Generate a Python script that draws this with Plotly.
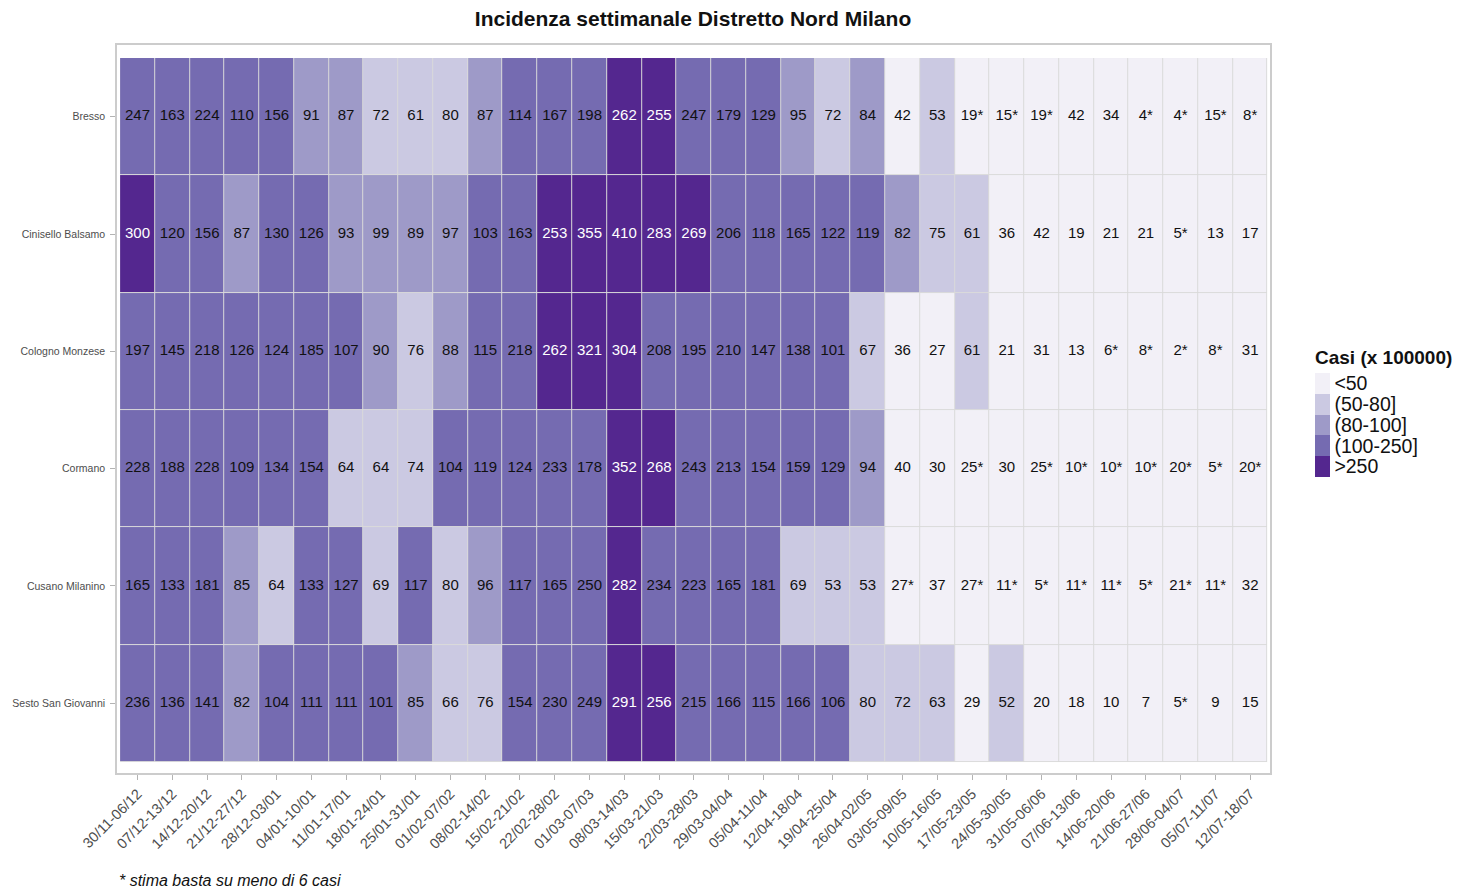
import plotly.graph_objects as go

weeks = ["30/11-06/12", "07/12-13/12", "14/12-20/12", "21/12-27/12", "28/12-03/01",
         "04/01-10/01", "11/01-17/01", "18/01-24/01", "25/01-31/01", "01/02-07/02",
         "08/02-14/02", "15/02-21/02", "22/02-28/02", "01/03-07/03", "08/03-14/03",
         "15/03-21/03", "22/03-28/03", "29/03-04/04", "05/04-11/04", "12/04-18/04",
         "19/04-25/04", "26/04-02/05", "03/05-09/05", "10/05-16/05", "17/05-23/05",
         "24/05-30/05", "31/05-06/06", "07/06-13/06", "14/06-20/06", "21/06-27/06",
         "28/06-04/07", "05/07-11/07", "12/07-18/07"]

zones = ["Bresso", "Cinisello Balsamo", "Cologno Monzese", "Cormano",
         "Cusano Milanino", "Sesto San Giovanni"]

# values as printed in the cells ("*" = estimate based on fewer than 6 cases)
bresso = ["247", "163", "224", "110", "156", "91", "87", "72", "61", "80",
          "87", "114", "167", "198", "262", "255", "247", "179", "129", "95",
          "72", "84", "42", "53", "19*", "15*", "19*", "42", "34", "4*",
          "4*", "15*", "8*"]
cinisello = ["300", "120", "156", "87", "130", "126", "93", "99", "89", "97",
             "103", "163", "253", "355", "410", "283", "269", "206", "118", "165",
             "122", "119", "82", "75", "61", "36", "42", "19", "21", "21",
             "5*", "13", "17"]
cologno = ["197", "145", "218", "126", "124", "185", "107", "90", "76", "88",
           "115", "218", "262", "321", "304", "208", "195", "210", "147", "138",
           "101", "67", "36", "27", "61", "21", "31", "13", "6*", "8*",
           "2*", "8*", "31"]
cormano = ["228", "188", "228", "109", "134", "154", "64", "64", "74", "104",
           "119", "124", "233", "178", "352", "268", "243", "213", "154", "159",
           "129", "94", "40", "30", "25*", "30", "25*", "10*", "10*", "10*",
           "20*", "5*", "20*"]
cusano = ["165", "133", "181", "85", "64", "133", "127", "69", "117", "80",
          "96", "117", "165", "250", "282", "234", "223", "165", "181", "69",
          "53", "53", "27*", "37", "27*", "11*", "5*", "11*", "11*", "5*",
          "21*", "11*", "32"]
sesto = ["236", "136", "141", "82", "104", "111", "111", "101", "85", "66",
         "76", "154", "230", "249", "291", "256", "215", "166", "115", "166",
         "106", "80", "72", "63", "29", "52", "20", "18", "10", "7",
         "5*", "9", "15"]

rows = [bresso, cinisello, cologno, cormano, cusano, sesto]

bin_labels = ["<50", "(50-80]", "(80-100]", "(100-250]", ">250"]
bin_colors = ["#f2f0f7", "#cbc9e2", "#9e9ac8", "#756bb1", "#54278f"]


def to_bin(v):
    if v < 50:
        return 0
    if v <= 80:
        return 1
    if v <= 100:
        return 2
    if v <= 250:
        return 3
    return 4


values = [[float(s.rstrip("*")) for s in r] for r in rows]
bins = [[to_bin(v) for v in r] for r in values]
# reversed so that "<50" sits at the top of the colour bar
zrev = [[4 - b for b in r] for r in bins]

colorscale = []
for k in range(5):
    c = bin_colors[4 - k]
    colorscale.append([k / 5, c])
    colorscale.append([(k + 1) / 5, c])

# page is offset by the 8px body margin -> figure is 1459x881
W, H = 1459, 881
OFF = 8
pl, pr, pt, pb = 117 - OFF, 1270 - OFF, 45 - OFF, 773 - OFF
ph = pb - pt

fig = go.Figure()

# grey layer under the tiles -> tile borders
fig.add_trace(go.Heatmap(
    x=weeks, y=zones, z=[[0] * len(weeks) for _ in zones],
    colorscale=[[0, "#dadada"], [1, "#dadada"]], showscale=False,
    hoverinfo="skip"))

fig.add_trace(go.Heatmap(
    x=weeks, y=zones, z=zrev, zmin=-0.5, zmax=4.5,
    colorscale=colorscale, xgap=1, ygap=1,
    customdata=rows, hovertemplate="%{y}<br>%{x}: %{customdata}<extra></extra>",
    colorbar=dict(
        title=dict(text="<b>Casi (x 100000)</b>", side="top",
                   font=dict(size=19, color="#111111")),
        tickvals=[4, 3, 2, 1, 0], ticktext=bin_labels,
        tickfont=dict(size=19.5, color="#111111"),
        ticks="", outlinewidth=0, thickness=15,
        lenmode="pixels", len=130,
        x=(1315 - OFF - pl) / (pr - pl), xanchor="left",
        y=(pb - (477 - OFF)) / ph, yanchor="bottom",
        ypad=0, xpad=0)))

tx, ty, tt, tc = [], [], [], []
for zi, zone in enumerate(zones):
    for wi, wk in enumerate(weeks):
        tx.append(wk)
        ty.append(zone)
        tt.append(rows[zi][wi])
        tc.append("white" if bins[zi][wi] == 4 else "#111111")

fig.add_trace(go.Scatter(
    x=tx, y=ty, text=tt, mode="text",
    textfont=dict(size=15, color=tc, family="Liberation Sans, Arial, sans-serif"),
    hoverinfo="skip", showlegend=False))

fig.update_layout(
    width=W, height=H,
    margin=dict(l=pl, r=W - pr, t=pt, b=H - pb),
    paper_bgcolor="white", plot_bgcolor="white",
    font=dict(family="Liberation Sans, Arial, sans-serif", color="#4d4d4d"),
    title=dict(text="<b>Incidenza settimanale Distretto Nord Milano</b>",
               x=(693 - OFF) / W, xanchor="center", xref="container",
               y=1 - (19 - OFF) / H, yanchor="middle", yref="container",
               font=dict(size=21, color="#111111")),
    showlegend=False,
    xaxis=dict(type="category", range=[-0.59, 32.57], showgrid=False,
               zeroline=False, showline=True, linecolor="#cccccc", linewidth=1.5,
               mirror=True, ticks="outside", ticklen=5, tickwidth=1,
               tickcolor="#b3b3b3", tickangle=-45, automargin=False,
               tickfont=dict(size=14.5, color="#4d4d4d")),
    yaxis=dict(type="category", range=[5.594, -0.611], showgrid=False,
               zeroline=False, showline=True, linecolor="#cccccc", linewidth=1.5,
               mirror=True, ticks="outside", ticklen=5, tickwidth=1,
               tickcolor="#b3b3b3", ticklabelstandoff=3, automargin=False,
               tickfont=dict(size=10.5, color="#4d4d4d")),
    annotations=[dict(text="<i>* stima basta su meno di 6 casi</i>",
                      xref="paper", yref="paper", x=0, y=(pb - (880 - OFF)) / ph,
                      xanchor="left", yanchor="middle", showarrow=False,
                      font=dict(size=16, color="#111111"))])

fig.write_html("out.html")
